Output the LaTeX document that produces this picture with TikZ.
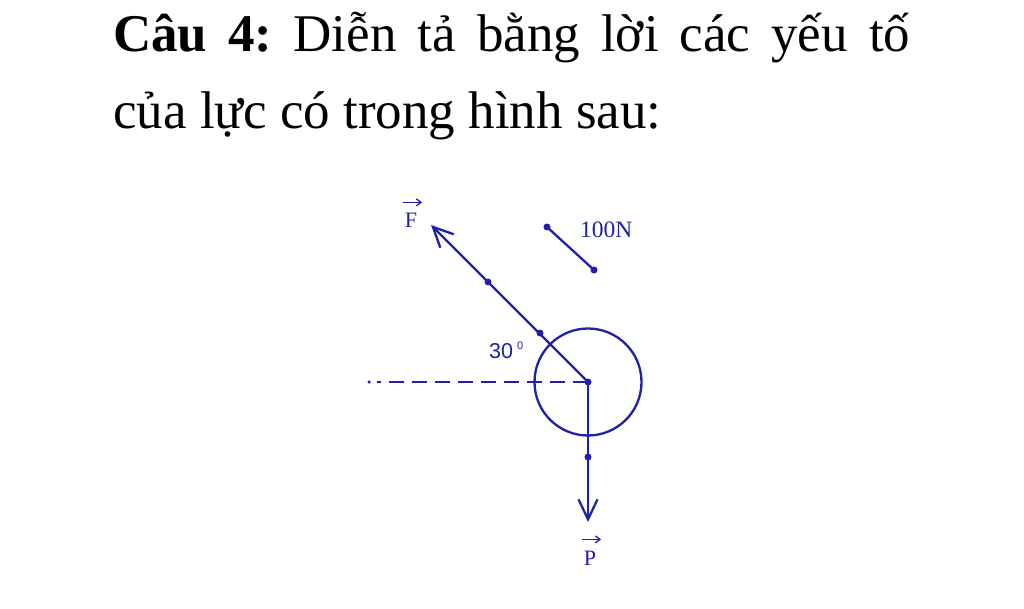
\documentclass[tikz,border=0pt]{standalone}
\usepackage{fontspec}
\setmainfont{Liberation Serif}
\setsansfont{Liberation Sans}
\usetikzlibrary{arrows.meta}
\definecolor{navy}{RGB}{32,32,168}
\begin{document}
\frenchspacing
\begin{tikzpicture}[x=1pt,y=-1pt,
  force/.style={draw=navy, line width=2.3pt, -{Straight Barb[length=20pt,width=19pt,line width=2.3pt]}},
  dotp/.style={circle, fill=navy, inner sep=0pt, minimum size=7pt},
  smalldot/.style={circle, fill=navy, inner sep=0pt, minimum size=3.5pt},
  lbl/.style={text=navy, font=\fontsize{22}{26}\selectfont, inner sep=0pt},
  vecbar/.style={draw=navy, line width=1.3pt, -{Straight Barb[length=4.5pt,width=7pt,line width=1.3pt]}},
  title/.style={anchor=base west, inner sep=0pt, font=\fontsize{53}{60}\selectfont}]
\useasboundingbox[fill=white] (0,0) rectangle (1024,609);
% title
\node[title] (t1) at (113,52) {\makebox[797pt][s]{\textbf{Câu 4:} Diễn tả bằng lời các yếu tố}};
\node[title] (t2) at (113,129) {của lực có trong hình sau:};
% body
\node[circle, draw=navy, line width=2.3pt, minimum size=107pt, inner sep=0pt] (C) at (588,382) {};
\node[dotp] (O) at (588,382) {};
\node[smalldot] (D) at (369,382) {};
\draw[navy, line width=2.3pt, dash pattern=on 15pt off 8pt] (O.center) -- ([xshift=8pt]D.center);
% force F
\coordinate (Ftip) at (431,225);
\draw[force] (O.center) -- (Ftip);
\node[dotp] (F1) at (540,333) {};
\node[dotp] (F2) at (488,282) {};
% force P
\coordinate (Ptip) at (588,522);
\draw[force] (O.center) -- (Ptip);
\node[dotp] (P1) at (588,457) {};
% scale
\node[dotp] (S1) at (547,227) {};
\node[dotp] (S2) at (594,270) {};
\draw[navy, line width=2.3pt] (S1.center) -- (S2.center);
\node[lbl, anchor=base west, font=\fontsize{23.5}{26}\selectfont] (scale) at (580,238) {100N};
% labels
\node[lbl, anchor=base] (Fl) at (411,228) {F};
\draw[vecbar] ([xshift=-8pt,yshift=11pt]Fl.north) -- ([xshift=11pt,yshift=11pt]Fl.north);
\node[lbl, anchor=base] (Pl) at (590,565) {P};
\draw[vecbar] ([xshift=-8pt,yshift=11pt]Pl.north) -- ([xshift=11pt,yshift=11pt]Pl.north);
\node[lbl, anchor=base west, font=\sffamily\fontsize{21.5}{26}\selectfont] (ang) at (489,358) {30};
\node[lbl, anchor=base west, font=\sffamily\fontsize{11}{13}\selectfont] (deg) at (517,349) {0};
\end{tikzpicture}
\end{document}
